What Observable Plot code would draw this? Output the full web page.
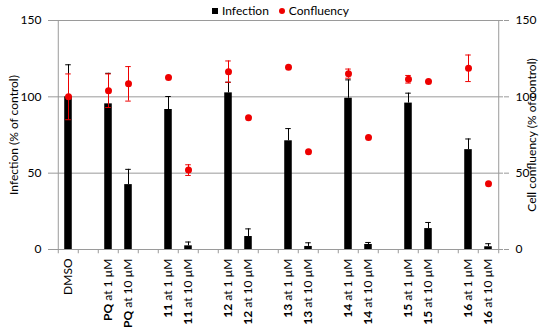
<!DOCTYPE html>
<html><head><meta charset="utf-8">
<script src="https://cdn.jsdelivr.net/npm/d3@7"></script>
<script src="https://cdn.jsdelivr.net/npm/@observablehq/plot@0.6"></script>
<style>
body{margin:0;background:#fff;}
#wrap{position:relative;width:550px;height:329px;font-family:Lato,sans-serif;}
#legend{position:absolute;top:4px;left:212px;font-size:12px;color:#000;display:flex;align-items:center;white-space:nowrap;line-height:14px;}
#legend .sq{display:inline-block;width:6px;height:6px;background:#000;margin-right:4px;}
#legend .dt{display:inline-block;width:6px;height:6px;border-radius:50%;background:#ee0000;margin:0 4px 0 10px;}
</style></head><body><div id="wrap"><div id="legend"><span class="sq"></span>Infection<span class="dt"></span>Confluency</div></div>
<script>
const categories = ["DMSO","gap1","PQ at 1 µM","PQ at 10 µM","gap2","11 at 1 µM","11 at 10 µM","gap3","12 at 1 µM","12 at 10 µM","gap4","13 at 1 µM","13 at 10 µM","gap5","14 at 1 µM","14 at 10 µM","gap6","15 at 1 µM","15 at 10 µM","gap7","16 at 1 µM","16 at 10 µM"];
const samples = categories.filter(c => !c.startsWith("gap"));
const infection    = [100, 95.4, 42.5, 91.7, 2.4, 102.6, 8.5, 71.2, 2.0, 99.1, 3.3, 95.9, 13.7, 65.4, 1.8];
const infectionErr = [21, 20, 10, 8.5, 2.5, 7, 5, 8, 2.4, 12, 1.3, 6.5, 4, 7, 2];
const confluency    = [100, 104, 108.5, 112.6, 52, 116.5, 86.3, 119.4, 64, 115.2, 73.4, 111.5, 110, 118.7, 43];
const confluencyErr = [15, 11, 11.3, 0, 3.5, 7, 0, 0, 0, 3, 0, 2.5, 0, 8.7, 0];
const yTicks = [0, 50, 100, 150];
const leftTitle = "Infection (% of control)";
const rightTitle = "Cell confluency (% of control)";

const rows = samples.map((s, i) => ({sample: s, inf: infection[i], infErr: infectionErr[i], conf: confluency[i], confErr: confluencyErr[i]}));
const confRows = rows.filter(d => d.confErr > 0);

const W = 550, H = 329, mL = 53, mR = 47, mT = 20, mB = 80;
const bw = (W - mL - mR) / categories.length;
const barInset = (bw - 8) / 2;
const capInset = (bw - 6) / 2;
const red = "#ee0000";
const grey = "#9a9a9a";

const chart = Plot.plot({
  width: W, height: H, marginLeft: mL, marginRight: mR, marginTop: mT, marginBottom: mB,
  style: {fontFamily: "Lato, sans-serif", fontSize: "12px", color: "#000", background: "white", overflow: "visible"},
  x: {type: "band", domain: categories, padding: 0, axis: null},
  y: {domain: [0, 150], axis: null},
  marks: [
    Plot.ruleY(yTicks, {stroke: grey, strokeWidth: 1}),
    Plot.ruleX(["DMSO"], {x: d => d, y1: 0, y2: 150, dx: -bw / 2, stroke: grey}),
    Plot.ruleX([categories[categories.length - 1]], {x: d => d, y1: 0, y2: 150, dx: bw / 2, stroke: grey}),
    Plot.ruleX(categories, {x: d => d, y1: 0, y2: -2.8, dx: -bw / 2, stroke: grey}),
    Plot.ruleX([categories[categories.length - 1]], {x: d => d, y1: 0, y2: -2.8, dx: bw / 2, stroke: grey}),
    Plot.barY(rows, {x: "sample", y: "inf", fill: "black", insetLeft: barInset, insetRight: barInset}),
    Plot.ruleX(rows, {x: "sample", y1: "inf", y2: d => d.inf + d.infErr, stroke: "black", strokeWidth: 1}),
    Plot.tickY(rows, {x: "sample", y: d => d.inf + d.infErr, stroke: "black", insetLeft: capInset, insetRight: capInset}),
    Plot.ruleX(confRows, {x: "sample", y1: d => d.conf - d.confErr, y2: d => d.conf + d.confErr, stroke: red, strokeWidth: 1}),
    Plot.tickY(confRows, {x: "sample", y: d => d.conf + d.confErr, stroke: red, insetLeft: capInset, insetRight: capInset}),
    Plot.tickY(confRows, {x: "sample", y: d => d.conf - d.confErr, stroke: red, insetLeft: capInset, insetRight: capInset}),
    Plot.dot(rows, {x: "sample", y: "conf", r: 3.5, fill: red, stroke: null}),
    Plot.axisY(yTicks, {anchor: "left", tickSize: 5, tickPadding: 7, stroke: grey, label: null, fontSize: 12}),
    Plot.axisY(yTicks, {anchor: "right", tickSize: 5, tickPadding: 7, stroke: grey, label: null, fontSize: 12}),
    Plot.axisX({anchor: "bottom", tickSize: 0, tickPadding: 9, tickRotate: -90, label: null, fontSize: 12, tickFormat: d => d.startsWith("gap") ? "" : d}),
    Plot.text([leftTitle], {frameAnchor: "left", dx: -39, rotate: -90, text: d => d, fontSize: 12, textAnchor: "middle"}),
    Plot.text([rightTitle], {frameAnchor: "right", dx: 29, rotate: -90, text: d => d, fontSize: 12, textAnchor: "middle"})
  ]
});

d3.select(chart).selectAll('g[aria-label="x-axis tick label"] text').each(function () {
  const t = this.textContent;
  const m = t.match(/^(\S+)( at .+)$/);
  if (m) {
    this.textContent = "";
    const s = d3.select(this);
    s.append("tspan").attr("font-weight", "bold").text(m[1]);
    s.append("tspan").text(m[2]);
  }
});

document.getElementById("wrap").appendChild(chart);
</script></body></html>
